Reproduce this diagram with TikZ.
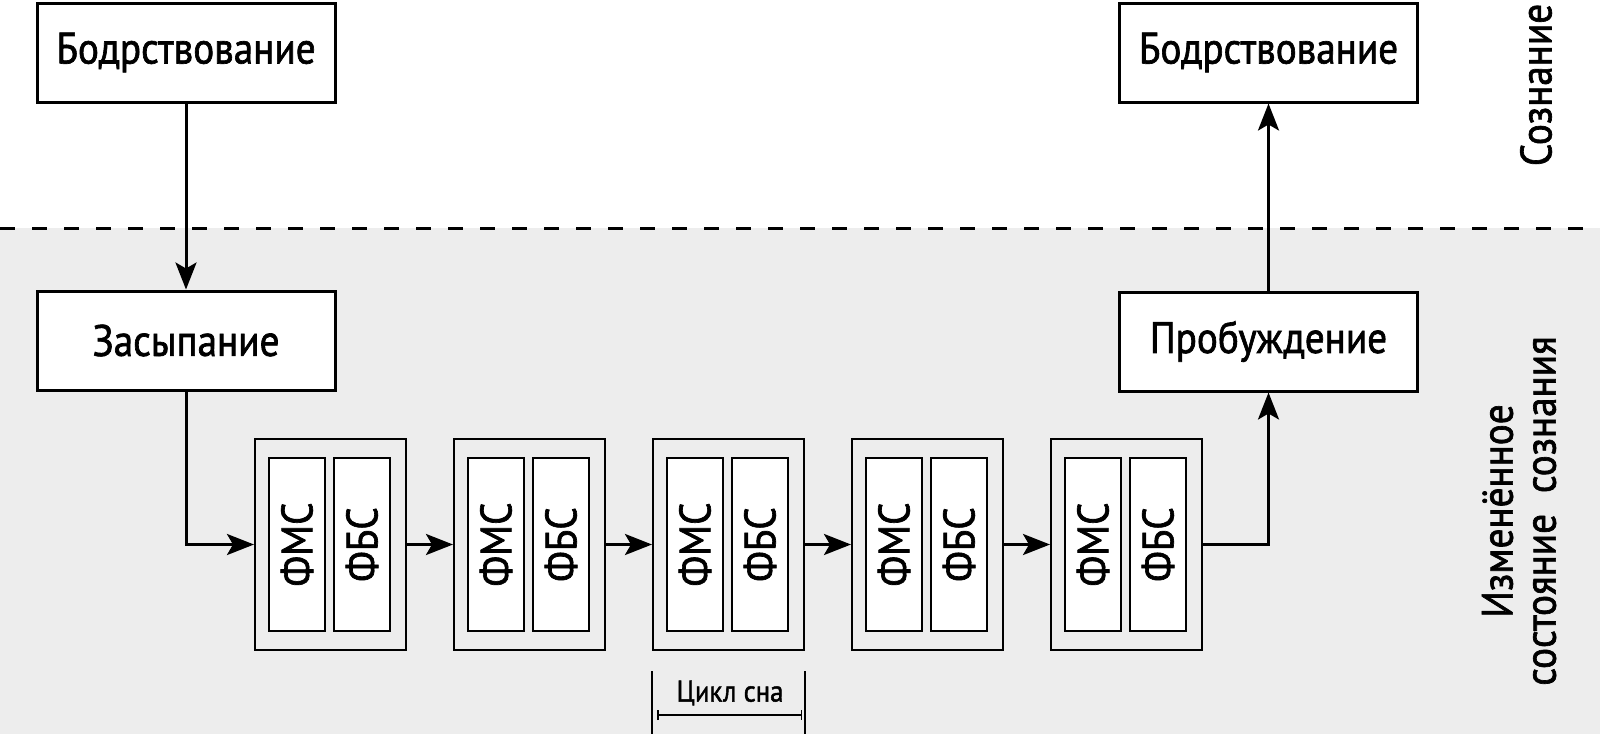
\documentclass[tikz,border=0pt]{standalone}
\usepackage{fontspec}
\setmainfont{PT Sans}[FakeStretch=0.89,FakeBold=1.5]
\usetikzlibrary{arrows.meta}
\definecolor{bggray}{RGB}{237,237,237}
\tikzset{
  mainbox/.style={draw, line width=3pt, fill=white, minimum width=298pt, minimum height=99pt, inner sep=0pt, font=\fontsize{44}{48}\selectfont},
  cycbox/.style={draw, line width=2pt, fill=bggray, minimum width=151pt, minimum height=211pt, inner sep=0pt},
  phase/.style={draw, line width=2pt, fill=white, minimum width=56pt, minimum height=173pt, inner sep=0pt},
  phasetext/.style={rotate=90, inner sep=0pt, font=\fontsize{44}{48}\selectfont},
  sidetext/.style={rotate=90, inner sep=0pt, align=center, font=\fontsize{44}{43}\selectfont},
  arr/.style={line width=3pt, -{Stealth[length=27pt,width=21pt,inset=6pt]}},
  brk/.style={line width=1.5pt}
}
\begin{document}
\begin{tikzpicture}[x=1pt,y=-1pt]
\useasboundingbox (0,0) rectangle (1600,734);
\fill[white] (0,0) rectangle (1600,228);
\fill[bggray] (0,228) rectangle (1600,734);
\draw[line width=3pt, dash pattern=on 15pt off 17pt] (0,228) -- (1600,228);

\node[mainbox] (w1) at (186,52.5) {Бодрствование};
\node[mainbox] (z) at (186,340.5) {Засыпание};
\node[mainbox] (w2) at (1268.5,52.5) {Бодрствование};
\node[mainbox] (p) at (1268.5,341.5) {Пробуждение};

\foreach \i in {0,...,4}{
  \node[cycbox] (c\i) at ({330.5+199*\i},544.5) {};
  \node[phase] (m\i) at ({297+199*\i},544.5) {};
  \node[phase] (b\i) at ({362+199*\i},544.5) {};
  \node[phasetext] at (m\i) {ФМС};
  \node[phasetext] at (b\i) {ФБС};
}

\draw[arr] (w1.south) -- (z.north);
\draw[arr] (z.south) -- (z.south |- c0.west) -- (c0.west);
\foreach \i/\j in {0/1,1/2,2/3,3/4}{
  \draw[arr] (c\i.east) -- (c\j.west);
}
\draw[arr] (c4.east) -| (p.south);
\draw[arr] (p.north) -- (w2.south);

\coordinate (bl1) at ([yshift=-20pt]c2.south west);
\coordinate (br1) at ([yshift=-20pt]c2.south east);
\coordinate (bl2) at (c2.south west |- 0,734);
\coordinate (br2) at (c2.south east |- 0,734);
\draw[brk] (bl1) -- (bl2);
\draw[brk] (br1) -- (br2);
\coordinate (hl) at ([xshift=5pt]c2.south west |- 0,715);
\coordinate (hr) at ([xshift=-3pt]c2.south east |- 0,715);
\draw[brk, {Bar[width=10pt]}-{Bar[width=10pt]}] (hl) -- (hr);
\node[inner sep=0pt, font=\fontsize{30}{32}\selectfont] (cl) at (730,693) {Цикл сна};

\node[sidetext] (s1) at (1536,85) {Сознание};
\node[sidetext] (s2) at (1519,511) {Изменённое\\состояние\ \ сознания};
\end{tikzpicture}
\end{document}
